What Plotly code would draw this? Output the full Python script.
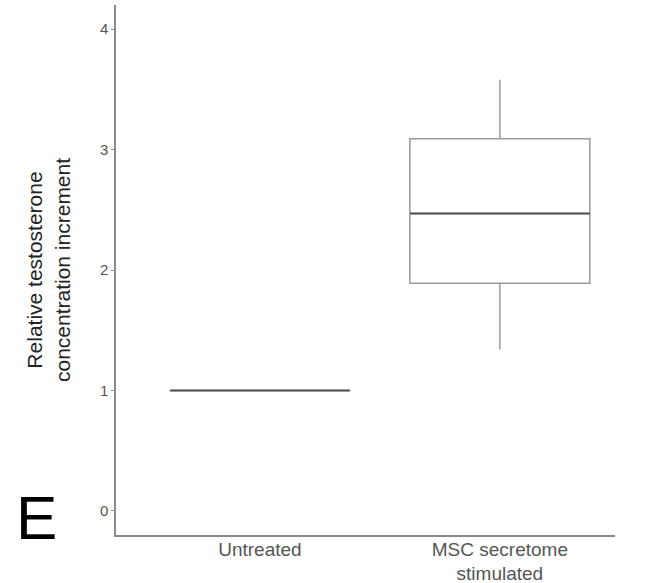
import plotly.graph_objects as go

categories = ["Untreated", "MSC secretome<br>stimulated"]
q1 = [1.0, 1.89]
median = [1.0, 2.47]
q3 = [1.0, 3.09]
lower = [1.0, 1.34]
upper = [1.0, 3.58]
y_ticks = [0, 1, 2, 3, 4]

fig = go.Figure()
fig.add_trace(go.Box(
    x=categories, q1=q1, median=median, q3=q3,
    lowerfence=lower, upperfence=upper,
    width=0.75, whiskerwidth=0, fillcolor="rgba(255,255,255,0)",
    line=dict(color="#9a9a9a", width=1.5),
    hoverinfo="skip", showlegend=False,
))
fig.add_trace(go.Box(
    x=categories, q1=median, median=median, q3=median,
    lowerfence=median, upperfence=median,
    width=0.75, whiskerwidth=0, fillcolor="rgba(255,255,255,0)",
    line=dict(color="#505050", width=2),
    hoverinfo="skip", showlegend=False,
))

fig.update_layout(
    width=654, height=583,
    margin=dict(l=116, r=39, t=5, b=48),
    paper_bgcolor="white", plot_bgcolor="white",
    boxmode="overlay",
    font=dict(family="Liberation Sans, Arial, sans-serif", color="#555555", size=15),
    xaxis=dict(
        type="category", range=[-0.6, 1.48], automargin=False,
        showline=True, linecolor="#8a8a8a", linewidth=1.5,
        showgrid=False, zeroline=False,
        ticks="", tickfont=dict(size=19, color="#555555"),
        ticklabelstandoff=-4,
    ),
    yaxis=dict(
        range=[-0.2, 4.2], tickvals=y_ticks, automargin=False,
        showline=True, linecolor="#8a8a8a", linewidth=1.5,
        showgrid=False, zeroline=False,
        ticks="outside", ticklen=3, tickcolor="#8a8a8a",
        tickfont=dict(size=15, color="#555555"),
        title=dict(text="Relative testosterone<br>concentration increment",
                   font=dict(size=21, color="#222222"), standoff=24),
    ),
    annotations=[dict(
        text="E", xref="paper", yref="paper", x=-0.159, y=-0.036,
        xanchor="center", yanchor="bottom", showarrow=False,
        font=dict(size=62, color="#000000", family="Liberation Sans, Arial, sans-serif"),
    )],
)

fig.write_html("out.html")
